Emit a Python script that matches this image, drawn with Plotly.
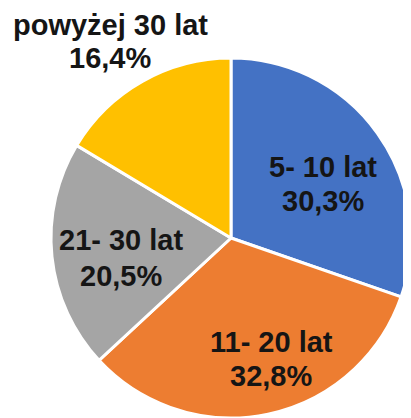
import plotly.graph_objects as go

labels = ["5- 10 lat", "11- 20 lat", "21- 30 lat", "powyżej 30 lat"]
values = [30.3, 32.8, 20.5, 16.4]
colors = ["#4472C4", "#ED7D31", "#A5A5A5", "#FFC000"]

# page body has an 8px margin; figure sized to fit the window
OFF = 8
W, H = 411 - OFF, 418 - OFF
r = 180  # pie radius in px

# label centres in window pixels and line spacing (layout only)
label_pos = [(323, 184), (271, 359), (121, 258), (110, 41)]
line_gaps = [34, 34, 35, 33]
FONT = "Liberation Sans, Arial, sans-serif"

fig = go.Figure(go.Pie(
    labels=labels,
    values=values,
    sort=False,
    direction="clockwise",
    rotation=0,
    marker=dict(colors=colors, line=dict(color="white", width=3)),
    textinfo="none",
    hoverinfo="skip",
    domain=dict(x=[(W - 2 * r) / W, 1.0], y=[0.0, 2 * r / H]),
))

def fmt(v):
    return f"{v:.1f}%".replace(".", ",")

for lab, val, (px, py), gap in zip(labels, values, label_pos, line_gaps):
    for txt, dy in ((lab, -gap / 2), (fmt(val), gap / 2)):
        fig.add_annotation(
            x=(px - OFF) / W, y=1 - (py - OFF + dy) / H, xref="paper", yref="paper",
            text=txt, showarrow=False, xanchor="center", yanchor="middle",
            font=dict(family=FONT, size=29, color="#151515", weight="bold"),
        )

fig.update_layout(
    width=W, height=H,
    margin=dict(l=0, r=0, t=0, b=0),
    showlegend=False,
    paper_bgcolor="white",
    font=dict(family=FONT),
)

fig.write_html("out.html")
